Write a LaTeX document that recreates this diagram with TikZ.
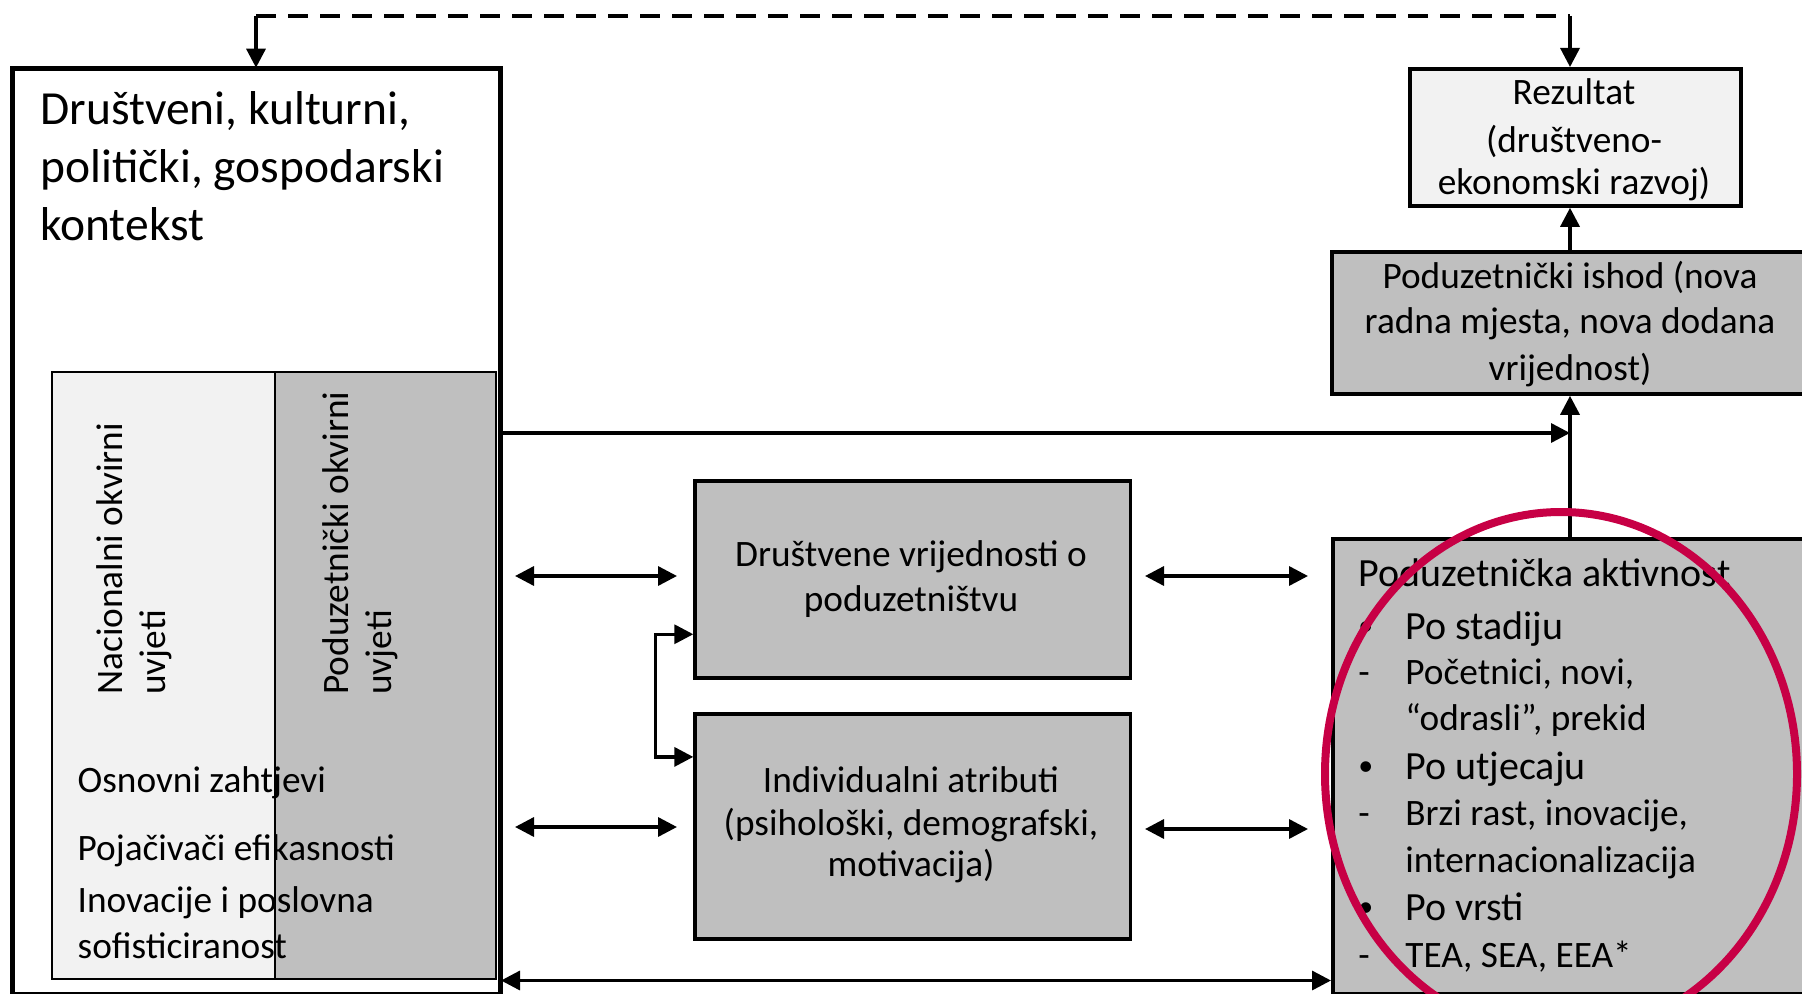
\documentclass[tikz,border=0pt]{standalone}
\usepackage{fontspec}
\setmainfont{Carlito}
\usetikzlibrary{arrows.meta,calc}
\definecolor{lgray}{HTML}{F2F2F2}
\definecolor{mgray}{HTML}{BFBFBF}
\definecolor{ringred}{RGB}{199,0,69}
\begin{document}
\begin{tikzpicture}[x=0.5pt,y=-0.5pt,
  boxline/.style={draw=black,line width=1.9pt,inner sep=0pt,anchor=north west},
  thinbox/.style={draw=black,line width=0.9pt,inner sep=0pt,anchor=north west},
  conn/.style={line width=1.7pt,-{Triangle[length=9.5pt,width=9.5pt]}},
  biconn/.style={line width=1.7pt,{Triangle[length=9.5pt,width=9.5pt]}-{Triangle[length=9.5pt,width=9.5pt]}},
  fb/.style={line width=1.7pt,dash pattern=on 10pt off 6pt},
  txt/.style={inner sep=0pt,font=\fontsize{18.65pt}{22pt}\selectfont},
  big/.style={inner sep=0pt,font=\fontsize{20pt}{24pt}\selectfont},
  bul/.style={inner sep=0pt,font=\fontsize{15pt}{18pt}\selectfont},
  ttl/.style={inner sep=0pt,font=\fontsize{23.75pt}{29pt}\selectfont},
]
\useasboundingbox (0,0) rectangle (1802,994);
\fill[white] (0,0) rectangle (1802,994);
\begin{scope}
\clip (0,0) rectangle (1802,994);
% boxes
\node[boxline,fill=white,line width=1.75pt,minimum width=242.9pt,minimum height=462.15pt] (ctx) at (11.7,67.7) {};
\node[thinbox,fill=lgray,minimum width=111.5pt,minimum height=303.65pt] (nat) at (51,370.7) {};
\node[thinbox,fill=mgray,minimum width=110.5pt,minimum height=303.65pt] (ent) at (274,370.7) {};
\draw[line width=1.75pt] (ctx.north west) rectangle (ctx.south east);
\node[boxline,fill=mgray,minimum width=217.6pt,minimum height=98.35pt] (dv) at (693.3,479) {};
\node[boxline,fill=mgray,minimum width=217.6pt,minimum height=112.5pt] (ia) at (693.3,712) {};
\node[boxline,fill=lgray,minimum width=165.5pt,minimum height=68.5pt] (rez) at (1408,67) {};
\node[boxline,fill=mgray,minimum width=242.5pt,minimum height=71pt] (ish) at (1330,250) {};
\node[boxline,fill=mgray,minimum width=242pt,minimum height=227.5pt] (akt) at (1331,537) {};
% title
\node[ttl,anchor=base west] (t1) at (40,125) {Društveni, kulturni,};
\node[ttl,anchor=base west] (t2) at (40,182.7) {politički, gospodarski};
\node[ttl,anchor=base west] (t3) at (40,240.7) {kontekst};
% rotated
\node[txt,rotate=90,anchor=base west] (n1) at (122.7,695) {Nacionalni okvirni};
\node[txt,rotate=90,anchor=base west] (n2) at (165.5,695) {uvjeti};
\node[txt,rotate=90,anchor=base west] (p1) at (348.3,695) {Poduzetnički okvirni};
\node[txt,rotate=90,anchor=base west] (p2) at (391.7,695) {uvjeti};
% inner list
\node[txt,anchor=base west] (o1) at (77.3,792.3) {Osnovni zahtjevi};
\node[txt,anchor=base west] (o2) at (77.3,860) {Pojačivači efikasnosti};
\node[txt,anchor=base west] (o3) at (77.3,912.3) {Inovacije i poslovna};
\node[txt,anchor=base west] (o4) at (77.3,958.3) {sofisticiranost};
% middle boxes text
\node[txt,anchor=base] (dv1) at (911,566.7) {Društvene vrijednosti o};
\node[txt,anchor=base] (dv2) at (911,611.7) {poduzetništvu};
\node[txt,anchor=base] (ia1) at (911,792.3) {Individualni atributi};
\node[txt,anchor=base] (ia2) at (911,835) {(psihološki, demografski,};
\node[txt,anchor=base] (ia3) at (911,876.7) {motivacija)};
% right boxes text
\node[txt,anchor=base] (r1) at (1574,105) {Rezultat};
\node[txt,anchor=base] (r2) at (1574,153) {(društveno-};
\node[txt,anchor=base] (r3) at (1574,195) {ekonomski razvoj)};
\node[txt,anchor=base] (i1) at (1570,288.3) {Poduzetnički ishod (nova};
\node[txt,anchor=base] (i2) at (1570,333.3) {radna mjesta, nova dodana};
\node[txt,anchor=base] (i3) at (1570,380) {vrijednost)};
% activity
\node[big,anchor=base west] (a0) at (1358,586.7) {Poduzetnička aktivnost};
\node[bul,anchor=base west] (b1) at (1358,635) {•};
\node[big,anchor=base west] (a1) at (1405,639) {Po stadiju};
\node[txt,anchor=base west] (d1) at (1358,684) {-};
\node[txt,anchor=base west] (a2) at (1405,684) {Početnici, novi,};
\node[txt,anchor=base west] (a3) at (1405,730.7) {“odrasli”, prekid};
\node[bul,anchor=base west] (b2) at (1358,775) {•};
\node[big,anchor=base west] (a4) at (1405,779) {Po utjecaju};
\node[txt,anchor=base west] (d2) at (1358,825.7) {-};
\node[txt,anchor=base west] (a5) at (1405,825.7) {Brzi rast, inovacije,};
\node[txt,anchor=base west] (a6) at (1405,872.3) {internacionalizacija};
\node[bul,anchor=base west] (b3) at (1358,916) {•};
\node[big,anchor=base west] (a7) at (1405,920) {Po vrsti};
\node[txt,anchor=base west] (d3) at (1358,967.3) {-};
\node[txt,anchor=base west] (a8) at (1405,967.3) {TEA, SEA, EEA*};
% connectors
\coordinate (vx) at (1570,0);
\coordinate (hy) at (0,433);
\coordinate (by) at (0,980.5);
\draw[conn] (ctx.east |- hy) -- (vx |- hy);
\draw[conn] (akt.north -| vx) -- (ish.south -| vx);
\draw[conn] (ish.north -| vx) -- (rez.south -| vx);
\draw[biconn] (ctx.east |- by) -- (akt.west |- by);
\coordinate (dl) at (256,16);
\coordinate (dr) at (1570,16);
\draw[fb] (dl) -- (dr);
\draw[conn] (dl) -- (dl |- ctx.north);
\draw[conn] (dr) -- (dr |- rez.north);
\coordinate (l1a) at (515,576);
\coordinate (l1b) at (677,576);
\coordinate (l2a) at (515,827);
\coordinate (l2b) at (677,827);
\coordinate (r1a) at (1145,576);
\coordinate (r1b) at (1308,576);
\coordinate (r2a) at (1145,829);
\coordinate (r2b) at (1308,829);
\draw[biconn] (l1a) -- (l1b);
\draw[biconn] (l2a) -- (l2b);
\draw[biconn] (r1a) -- (r1b);
\draw[biconn] (r2a) -- (r2b);
\draw[biconn] ($(dv.west)+(0,55)$) -- ++(-37.6,0) |- ($(ia.west)+(0,-69.5)$);
% highlight ring
\draw[ringred,line width=4pt] (1561,774) ellipse [x radius=118pt, y radius=131pt];
\end{scope}
\end{tikzpicture}
\end{document}
